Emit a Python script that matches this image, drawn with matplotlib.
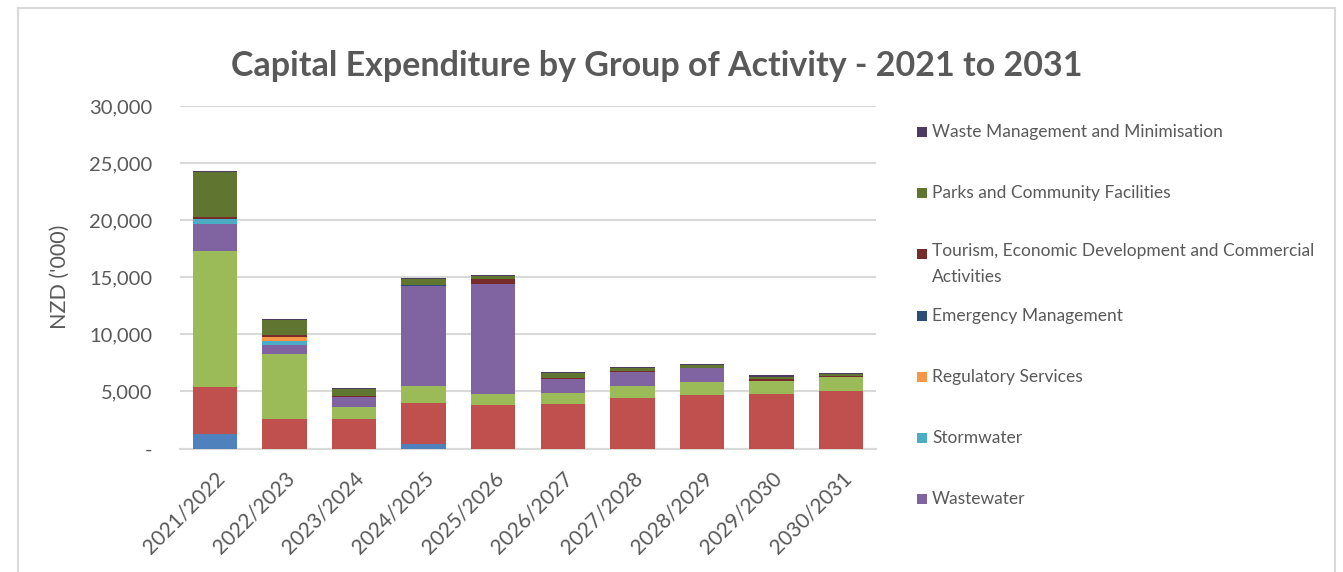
import matplotlib
matplotlib.use("Agg")
import matplotlib.pyplot as plt
from matplotlib.patches import Rectangle
from matplotlib.lines import Line2D
from matplotlib.ticker import FuncFormatter
import numpy as np

plt.rcParams['font.family'] = ['Lato', 'DejaVu Sans']

years = ["2021/2022", "2022/2023", "2023/2024", "2024/2025", "2025/2026",
         "2026/2027", "2027/2028", "2028/2029", "2029/2030", "2030/2031"]

# values in NZD '000, stacked bottom to top
governance     = [1300, 0, 0, 420, 0, 0, 0, 0, 0, 0]
transportation = [4080, 2550, 2570, 3560, 3770, 3890, 4450, 4690, 4800, 5000]
water_supply   = [11920, 5700, 1100, 1460, 1030, 1000, 1000, 1110, 1090, 1240]
wastewater     = [2350, 800, 830, 8760, 9580, 1230, 1270, 1230, 50, 50]
stormwater     = [450, 350, 0, 0, 0, 0, 0, 0, 0, 0]
regulatory     = [0, 400, 0, 0, 0, 0, 0, 0, 0, 0]
emergency      = [0, 0, 0, 80, 0, 0, 0, 0, 0, 0]
tourism        = [150, 120, 100, 0, 470, 50, 100, 50, 140, 80]
parks          = [4000, 1330, 600, 570, 230, 450, 200, 250, 200, 150]
waste_mgmt     = [100, 120, 80, 100, 100, 80, 80, 80, 130, 100]

series = [
    ("Governance", governance, "#4F81BD"),
    ("Transportation", transportation, "#C0504D"),
    ("Water Supply", water_supply, "#9BBB59"),
    ("Wastewater", wastewater, "#8064A2"),
    ("Stormwater", stormwater, "#4BACC6"),
    ("Regulatory Services", regulatory, "#F79646"),
    ("Emergency Management", emergency, "#2C4D75"),
    ("Tourism, Economic Development and Commercial\nActivities", tourism, "#772C2A"),
    ("Parks and Community Facilities", parks, "#5F7530"),
    ("Waste Management and Minimisation", waste_mgmt, "#4D3B62"),
]

W, H = 1343, 572
fig = plt.figure(figsize=(W / 100, H / 100), dpi=100)

def fx(px):
    return px / W

def fy(py):
    return 1 - py / H

ax = fig.add_axes([fx(180), fy(448.5), fx(876) - fx(180), fy(106) - fy(448.5)])

x = np.arange(len(years))
bottom = np.zeros(len(years))
for name, vals, col in series:
    v = np.array(vals, dtype=float)
    ax.bar(x, v, bottom=bottom, width=0.64, color=col, edgecolor="none", zorder=3)
    bottom += v

ax.set_xlim(-0.5, len(years) - 0.5)
ax.set_ylim(0, 30000)
ax.set_yticks(np.arange(0, 30001, 5000))
ax.yaxis.set_major_formatter(FuncFormatter(lambda v, p: "-" if v == 0 else f"{int(v):,}"))
ax.grid(axis="y", color="#D9D9D9", linewidth=1.5, zorder=0)
for s in ["top", "right", "left"]:
    ax.spines[s].set_visible(False)
ax.spines["bottom"].set_color("#D9D9D9")
ax.spines["bottom"].set_linewidth(1.5)
ax.tick_params(axis="both", length=0, colors="#595959", labelsize=14.5)
ax.tick_params(axis="y", pad=20)
ax.set_xticks(x)
ax.set_xticklabels(years, rotation=45, ha="right", rotation_mode="anchor", fontsize=15)
ax.tick_params(axis="x", pad=14)
ax.set_ylabel("NZD ('000)", color="#595959", fontsize=15.5, labelpad=14)

fig.text(fx(657), fy(66), "Capital Expenditure by Group of Activity - 2021 to 2031",
         ha="center", va="center", fontsize=24.5, fontweight="bold", color="#595959")

# legend (top-most series first), drawn manually to match the layout
legend_items = [
    (series[9], 132),
    (series[8], 193),
    (series[7], 254),
    (series[6], 316),
    (series[5], 377),
    (series[4], 438),
    (series[3], 499),
]
for (name, vals, col), ypx in legend_items:
    fig.patches.append(Rectangle((fx(917), fy(ypx + 5)), fx(10), fy(ypx - 5) - fy(ypx + 5),
                                 transform=fig.transFigure, facecolor=col, edgecolor="none"))
    if "\n" in name:
        fig.text(fx(932), fy(ypx - 11), name, ha="left", va="top",
                 fontsize=12.5, color="#595959", linespacing=1.8)
    else:
        fig.text(fx(932), fy(ypx), name, ha="left", va="center",
                 fontsize=12.5, color="#595959")

# chart frame
frame_col = "#D9D9D9"
fig.lines.append(Line2D([fx(18), fx(18)], [fy(8), 0], transform=fig.transFigure, color=frame_col, lw=1.5))
fig.lines.append(Line2D([fx(18), fx(1335)], [fy(8), fy(8)], transform=fig.transFigure, color=frame_col, lw=1.5))
fig.lines.append(Line2D([fx(1335), fx(1335)], [fy(8), 0], transform=fig.transFigure, color=frame_col, lw=1.5))

fig.savefig("out.png", dpi=100, facecolor="white")
